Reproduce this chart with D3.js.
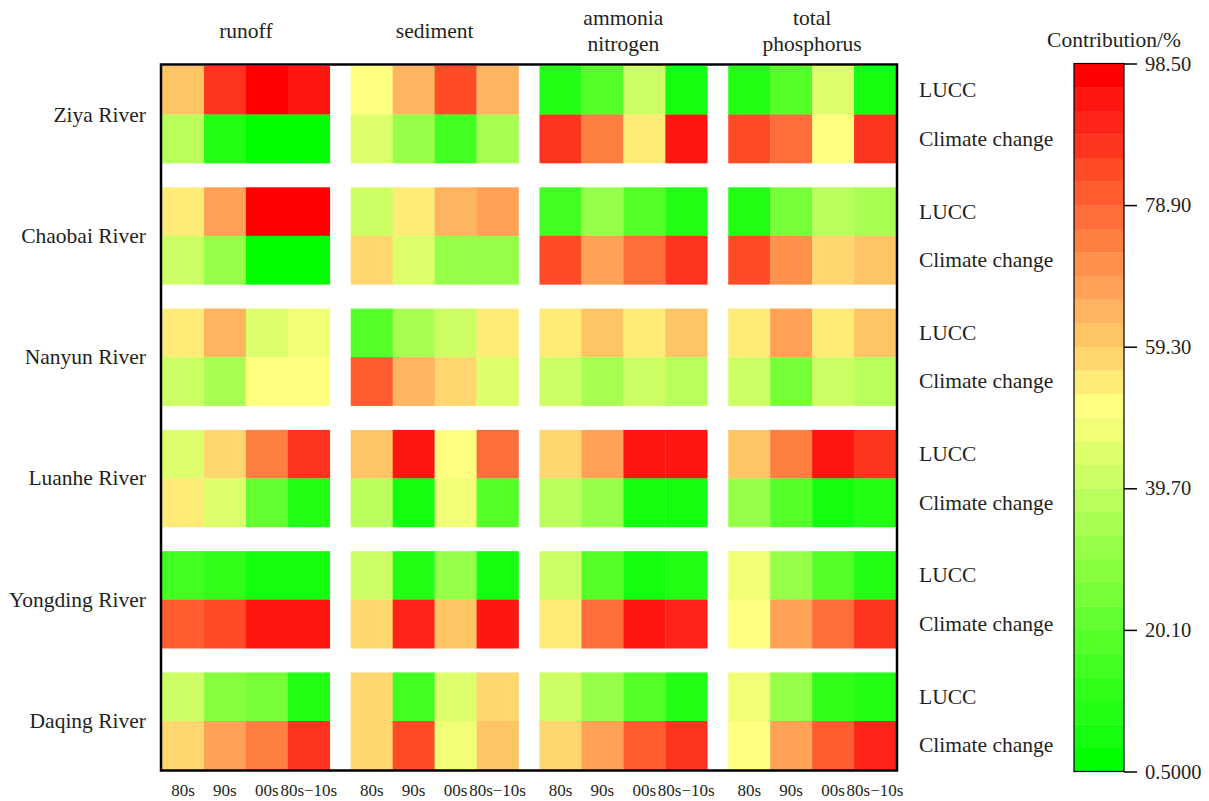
<!DOCTYPE html>
<html>
<head>
<meta charset="utf-8">
<script src="https://cdn.jsdelivr.net/npm/d3@7"></script>
<style>
  html, body { margin: 0; padding: 0; background: #fff; }
  svg text { font-family: "Liberation Serif", "Times New Roman", serif; fill: #231f20; }
</style>
</head>
<body>
<svg id="chart" width="1209" height="801"></svg>
<script>
// Basins (row blocks) and the two driving factors inside each block
const rivers = ["Ziya River", "Chaobai River", "Nanyun River", "Luanhe River", "Yongding River", "Daqing River"];
const factors = ["LUCC", "Climate change"];
// Hydrological / water-quality indicators (column groups), header split into lines
const indicators = [["runoff"], ["sediment"], ["ammonia", "nitrogen"], ["total", "phosphorus"]];
// Periods inside each indicator group
const periods = ["80s", "90s", "00s", "80s\u221210s"];

// Contribution (%) of land-use/cover change: one row per basin,
// columns = runoff(4 periods), sediment(4), ammonia nitrogen(4), total phosphorus(4)
const luccValues = [
  [61, 88, 98, 94,   51, 65, 85, 65,   8, 18, 42, 5,    9, 19, 45, 6],
  [55, 68, 98, 98,   41, 55, 64, 68,   15, 31, 19, 10,  10, 25, 38, 35],
  [56, 64, 45, 48,   17, 35, 40, 55,   55, 61, 55, 61,  55, 68, 55, 61],
  [45, 58, 75, 86,   61, 94, 51, 78,   59, 66, 94, 92,  62, 75, 92, 87],
  [15, 12, 6, 5,     42, 10, 32, 5,    41, 17, 4, 8,    48, 31, 18, 9],
  [42, 28, 25, 9,    58, 15, 46, 58,   42, 32, 18, 8,   48, 32, 12, 8]
];
// Contribution (%) of climate change, same layout
const climateValues = [
  [39, 9, 1.5, 2,    46, 32, 16, 35,   88, 75, 55, 92,  85, 76, 51, 88],
  [42, 31, 1.5, 1.5, 58, 46, 32, 32,   84, 68, 78, 88,  85, 70, 58, 62],
  [40, 35, 51, 51,   79, 65, 59, 46,   42, 36, 42, 39,  42, 26, 42, 39],
  [54, 46, 22, 9,    38, 4, 48, 19,    38, 32, 5, 5,    32, 17, 6, 10],
  [81, 85, 94, 94,   58, 90, 62, 94,   54, 78, 92, 91,  51, 68, 78, 87],
  [58, 68, 74, 87,   58, 84, 48, 62,   58, 68, 81, 87,  51, 68, 81, 91]
];

// Colour bar ticks
const colorDomain = [0.5, 98.5];
const colorTicks = [0.5, 20.1, 39.7, 59.3, 78.9, 98.5];

// 30-step green -> yellow -> red palette (low to high)
const palette = [
  "rgb(0,255,0)", "rgb(20,255,15)", "rgb(35,255,20)", "rgb(50,255,25)", "rgb(65,255,32)",
  "rgb(85,255,40)", "rgb(100,255,48)", "rgb(118,255,55)", "rgb(135,255,63)", "rgb(150,255,72)",
  "rgb(168,255,82)", "rgb(185,255,92)", "rgb(205,255,100)", "rgb(222,255,108)", "rgb(240,255,118)",
  "rgb(255,255,128)", "rgb(255,235,120)", "rgb(255,215,110)", "rgb(255,197,100)", "rgb(255,180,95)",
  "rgb(255,162,85)", "rgb(255,145,75)", "rgb(255,127,65)", "rgb(255,110,58)", "rgb(255,92,48)",
  "rgb(255,75,38)", "rgb(255,52,30)", "rgb(255,36,24)", "rgb(255,22,16)", "rgb(255,0,0)"
];

const svg = d3.select("#chart");

// ---- scales ----
const color = d3.scaleQuantize().domain(colorDomain).range(palette);

const xGroup = d3.scaleBand().domain(d3.range(indicators.length)).range([162, 896]).paddingInner(1 / 9).paddingOuter(0);
const xPeriod = d3.scaleBand().domain(d3.range(periods.length)).range([0, xGroup.bandwidth()]);
const yRiver = d3.scaleBand().domain(d3.range(rivers.length)).range([66, 769.5]).paddingInner(0.2).paddingOuter(0);
const yFactor = d3.scaleBand().domain(d3.range(factors.length)).range([0, yRiver.bandwidth()]);

// ---- cells ----
const cells = [];
rivers.forEach((r, ri) => {
  [luccValues, climateValues].forEach((arr, fi) => {
    arr[ri].forEach((v, ci) => {
      cells.push({ ri, fi, g: Math.floor(ci / 4), p: ci % 4, v });
    });
  });
});

svg.append("g").selectAll("rect").data(cells).join("rect")
  .attr("x", d => xGroup(d.g) + xPeriod(d.p))
  .attr("y", d => yRiver(d.ri) + yFactor(d.fi))
  .attr("width", xPeriod.bandwidth() + 0.3)
  .attr("height", yFactor.bandwidth() + 0.3)
  .attr("fill", d => color(d.v));

// plot frame
const [fx0, fx1] = xGroup.range();
const [fy0, fy1] = yRiver.range();
svg.append("rect")
  .attr("x", fx0 - 1).attr("y", fy0 - 1.5)
  .attr("width", fx1 - fx0 + 2).attr("height", fy1 - fy0 + 2.5)
  .attr("fill", "none").attr("stroke", "#000").attr("stroke-width", 2.5);

// ---- indicator headers ----
const hdr = svg.append("g");
indicators.forEach((lines, gi) => {
  const cx = xGroup(gi) + xGroup.bandwidth() / 2;
  const t = hdr.append("text").attr("x", cx).attr("text-anchor", "middle")
    .attr("font-size", 21.5).attr("dominant-baseline", "central");
  if (lines.length === 1) {
    t.attr("y", 31).text(lines[0]);
  } else {
    t.attr("y", 18).text(lines[0]);
    hdr.append("text").attr("x", cx).attr("y", 44).attr("text-anchor", "middle")
      .attr("font-size", 21.5).attr("dominant-baseline", "central").text(lines[1]);
  }
});

// ---- period labels under each cell column ----
const bottom = svg.append("g");
indicators.forEach((_, gi) => {
  periods.forEach((p, pi) => {
    bottom.append("text")
      .attr("x", xGroup(gi) + xPeriod(pi) + xPeriod.bandwidth() / 2)
      .attr("y", 790)
      .attr("text-anchor", "middle").attr("dominant-baseline", "central")
      .attr("font-size", 17).text(p);
  });
});

// ---- basin labels (left) ----
svg.append("g").selectAll("text").data(rivers).join("text")
  .attr("x", 146)
  .attr("y", (d, i) => yRiver(i) + yRiver.bandwidth() / 2)
  .attr("text-anchor", "end").attr("dominant-baseline", "central")
  .attr("font-size", 21.5).text(d => d);

// ---- factor labels (right) ----
const fl = svg.append("g");
rivers.forEach((_, ri) => {
  factors.forEach((f, fi) => {
    fl.append("text")
      .attr("x", 919)
      .attr("y", yRiver(ri) + yFactor(fi) + yFactor.bandwidth() / 2)
      .attr("dominant-baseline", "central")
      .attr("font-size", 21.5).text(f);
  });
});

// ---- colour bar ----
const cbX = 1074, cbW = 50;
const yColor = d3.scaleLinear().domain(colorDomain).range([771.5, 63.5]);
const bands = palette.map(c => color.invertExtent(c));
const cb = svg.append("g");
cb.selectAll("rect").data(bands).join("rect")
  .attr("x", cbX).attr("width", cbW)
  .attr("y", d => yColor(d[1]))
  .attr("height", d => yColor(d[0]) - yColor(d[1]) + 0.3)
  .attr("fill", d => color((d[0] + d[1]) / 2));
cb.append("rect")
  .attr("x", cbX).attr("y", yColor(colorDomain[1]))
  .attr("width", cbW).attr("height", yColor(colorDomain[0]) - yColor(colorDomain[1]))
  .attr("fill", "none").attr("stroke", "#000").attr("stroke-width", 1.2);

const cbAxis = cb.append("g")
  .attr("transform", `translate(${cbX + cbW},0)`)
  .call(d3.axisRight(yColor).tickValues(colorTicks).tickFormat(d3.format(".4r")).tickSize(13).tickPadding(8));
cbAxis.select(".domain").remove();
cbAxis.selectAll(".tick line").attr("stroke", "#000").attr("stroke-width", 1.5);
cbAxis.selectAll(".tick text")
  .attr("font-family", "Liberation Serif, Times New Roman, serif")
  .attr("font-size", 20.5).attr("fill", "#231f20");

svg.append("text")
  .attr("x", 1114).attr("y", 40)
  .attr("text-anchor", "middle").attr("dominant-baseline", "central")
  .attr("font-size", 21.5).text("Contribution/%");
</script>
</body>
</html>
